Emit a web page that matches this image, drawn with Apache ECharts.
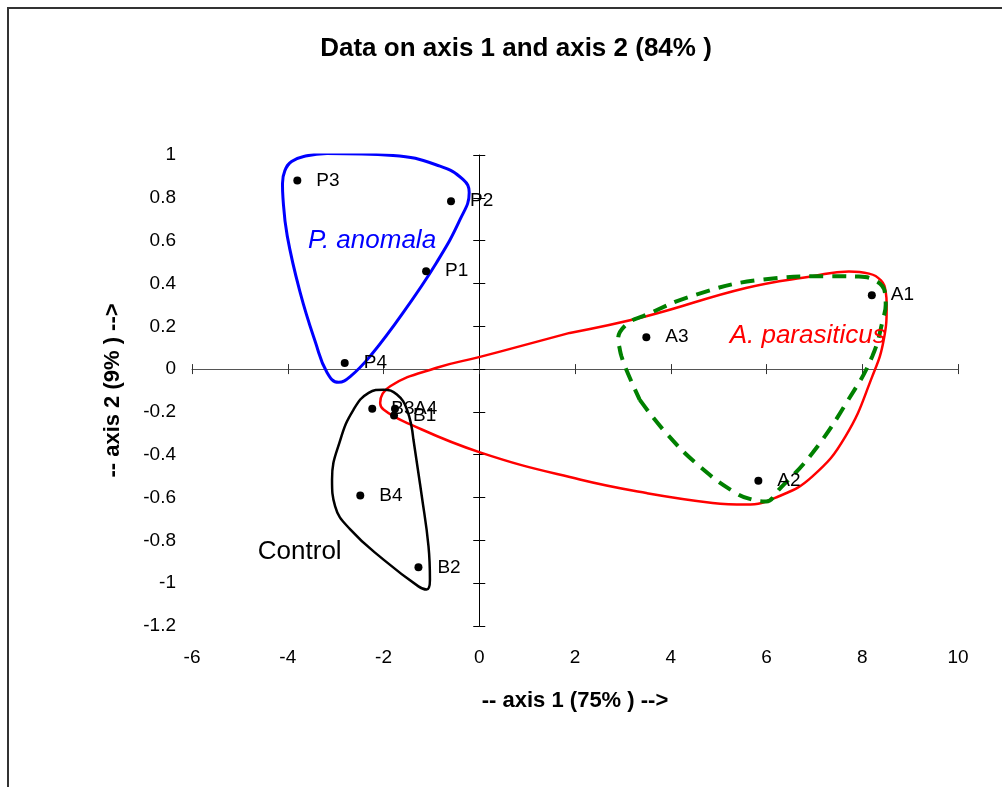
<!DOCTYPE html>
<html>
<head>
<meta charset="utf-8">
<script src="https://cdn.jsdelivr.net/npm/echarts@6/dist/echarts.min.js"></script>
<style>
html,body{margin:0;padding:0;background:#fff;}
#chart{width:1002px;height:787px;}
</style>
</head>
<body>
<div id="chart"></div>
<script>
// ---- Data ----
const pointNames = ['P1','P2','P3','P4','B1','B2','B3','B4','A1','A2','A3','A4'];
const axis1Values = [-1.11,-0.59,-3.80,-2.81,-1.78,-1.27,-2.235,-2.485,8.20,5.83,3.49,-1.76];
const axis2Values = [0.457,0.784,0.881,0.029,-0.217,-0.926,-0.185,-0.59,0.345,-0.521,0.149,-0.185];

const xTicks = [-6,-4,-2,0,2,4,6,8,10];
const yTicks = [-1.2,-1,-0.8,-0.6,-0.4,-0.2,0,0.2,0.4,0.6,0.8,1];

const groupNames = ['P. anomala','A. parasiticus','Control'];
const groupColors = ['#0000FF','#FF0000','#000000'];
const groupLabelX = [-2.24, 6.86, -3.75];
const groupLabelY = [0.598, 0.154, -0.855];

// Hand-drawn group outlines (data coordinates)
const blueOutlineX = [-1.59,-0.89,-0.40,-0.21,-0.34,-0.82,-1.80,-3.18,-3.63,-3.92,-4.06,-4.11,-4.10,-4.01,-3.74,-3.42,-3.18,-2.94,-2.69,-2.28,-1.59];
const blueOutlineY = [0.264,0.498,0.699,0.825,0.886,0.948,0.998,1.007,0.995,0.970,0.927,0.867,0.800,0.621,0.357,0.124,-0.016,-0.062,-0.034,0.060,0.264];

const blackOutlineX = [-1.375,-1.20,-1.06,-1.03,-1.10,-1.27,-2.00,-2.69,-3.01,-3.075,-2.90,-2.625,-2.31,-2.00,-1.72,-1.51,-1.375];
const blackOutlineY = [-0.329,-0.594,-0.828,-0.984,-1.030,-1.015,-0.890,-0.750,-0.641,-0.516,-0.329,-0.189,-0.111,-0.096,-0.119,-0.189,-0.329];

const redOutlineX = [1.89,3.49,5.57,6.96,7.72,8.14,8.39,8.49,8.51,8.45,8.21,7.65,6.96,6.26,5.57,4.875,3.49,2.10,0.015,-1.58,-2.00,-2.07,-1.86,-0.89,0.015,1.89];
const redOutlineY = [0.169,0.247,0.379,0.434,0.456,0.446,0.414,0.362,0.301,0.138,-0.034,-0.314,-0.501,-0.594,-0.633,-0.625,-0.579,-0.516,-0.389,-0.244,-0.189,-0.158,-0.080,0.006,0.057,0.169];

const greenOutlineX = [3.35,3.90,4.60,5.36,5.71,5.99,6.26,6.96,7.71,8.21,8.45,8.49,8.47,8.31,7.93,7.375,5.92,4.53,3.42,3.07,2.90,2.93,2.97,3.07,3.35];
const greenOutlineY = [-0.143,-0.298,-0.454,-0.579,-0.610,-0.618,-0.563,-0.392,-0.143,0.060,0.247,0.301,0.362,0.409,0.432,0.434,0.418,0.348,0.247,0.208,0.138,0.099,0.060,-0.002,-0.143];

// ---- Build ----
const FONT = "'Liberation Sans', Arial, sans-serif";
function zip(xs, ys){ return xs.map((x,i)=>[x, ys[i]]); }

const xMin = xTicks[0], xMax = xTicks[xTicks.length-1], xStep = xTicks[1]-xTicks[0];
const yMin = yTicks[0], yMax = yTicks[yTicks.length-1], yStep = 0.2;

function xBase(extra){
  return Object.assign({type:'value', min:xMin, max:xMax, interval:xStep, splitLine:{show:false}}, extra);
}
function yBase(extra){
  return Object.assign({type:'value', min:yMin, max:yMax, interval:yStep, splitLine:{show:false}}, extra);
}

const chart = echarts.init(document.getElementById('chart'), null, {renderer:'canvas'});

const outlineSeries = (data, color, width, type) => ({
  type:'line', data:data, smooth:0.45, symbol:'none', silent:true,
  lineStyle:{color:color, width:width, type:type||'solid'}, z:3
});

chart.setOption({
  animation:false,
  backgroundColor:'#fff',
  textStyle:{fontFamily:FONT},
  title:{
    text:'Data on axis 1 and axis 2 (84% )',
    left:511, top:31, textAlign:'center',
    textStyle:{fontFamily:FONT, fontSize:26, fontWeight:'bold', color:'#000'}
  },
  grid:{left:192, right:44, top:155, bottom:161, containLabel:false},
  graphic:[{
    type:'rect', shape:{x:8, y:8, width:1200, height:1200},
    style:{fill:'none', stroke:'#333', lineWidth:2}, silent:true, z:0
  }],
  xAxis:[
    xBase({position:'bottom', axisLine:{show:false, onZero:false}, axisTick:{show:false},
      axisLabel:{fontSize:19, color:'#000', margin:22, fontFamily:FONT},
      name:'-- axis 1 (75% ) -->', nameLocation:'middle', nameGap:64,
      nameTextStyle:{fontFamily:FONT, fontSize:22, fontWeight:'bold', color:'#000'}}),
    xBase({position:'bottom', axisLine:{show:true, onZero:true, onZeroAxisIndex:0, lineStyle:{color:'#555', width:1}},
      axisTick:{show:true, inside:false, length:5, lineStyle:{color:'#333', width:1}}, axisLabel:{show:false}}),
    xBase({position:'bottom', axisLine:{show:false, onZero:true, onZeroAxisIndex:0},
      axisTick:{show:true, inside:true, length:5, lineStyle:{color:'#333', width:1}}, axisLabel:{show:false}})
  ],
  yAxis:[
    yBase({position:'left', axisLine:{show:false, onZero:false}, axisTick:{show:false},
      axisLabel:{fontSize:19, color:'#000', margin:16, fontFamily:FONT,
        formatter:v=>String(+(+v).toFixed(1))},
      name:'-- axis 2 (9% ) -->', nameLocation:'middle', nameGap:68,
      nameTextStyle:{fontFamily:FONT, fontSize:22, fontWeight:'bold', color:'#000'}}),
    yBase({position:'left', axisLine:{show:true, onZero:true, onZeroAxisIndex:0, lineStyle:{color:'#000', width:1}},
      axisTick:{show:true, inside:false, length:6, lineStyle:{color:'#000', width:1}}, axisLabel:{show:false}}),
    yBase({position:'left', axisLine:{show:false, onZero:true, onZeroAxisIndex:0},
      axisTick:{show:true, inside:true, length:6, lineStyle:{color:'#000', width:1}}, axisLabel:{show:false}})
  ],
  series:[
    outlineSeries(zip(redOutlineX, redOutlineY), '#FF0000', 2.5),
    outlineSeries(zip(greenOutlineX, greenOutlineY), '#008000', 4, [14, 9]),
    outlineSeries(zip(blueOutlineX, blueOutlineY), '#0000FF', 3),
    outlineSeries(zip(blackOutlineX, blackOutlineY), '#000000', 2.5),
    {
      type:'scatter', symbol:'circle', symbolSize:8, z:5,
      itemStyle:{color:'#000', opacity:1},
      emphasis:{disabled:true},
      data: pointNames.map((n,i)=>({name:n, value:[axis1Values[i], axis2Values[i]]})),
      label:{show:true, position:'right', distance:15, formatter:'{b}', color:'#000', fontSize:19, fontFamily:FONT}
    },
    {
      type:'scatter', symbolSize:1, z:6, silent:true,
      itemStyle:{color:'#fff', opacity:1},
      emphasis:{disabled:true},
      data: groupNames.map((n,i)=>({name:n, value:[groupLabelX[i], groupLabelY[i]],
        label:{color:groupColors[i], fontStyle: i<2 ? 'italic':'normal'}})),
      label:{show:true, position:'inside', formatter:'{b}', fontSize:26, fontFamily:FONT,
        textBorderWidth:0}
    }
  ]
});
</script>
</body>
</html>
